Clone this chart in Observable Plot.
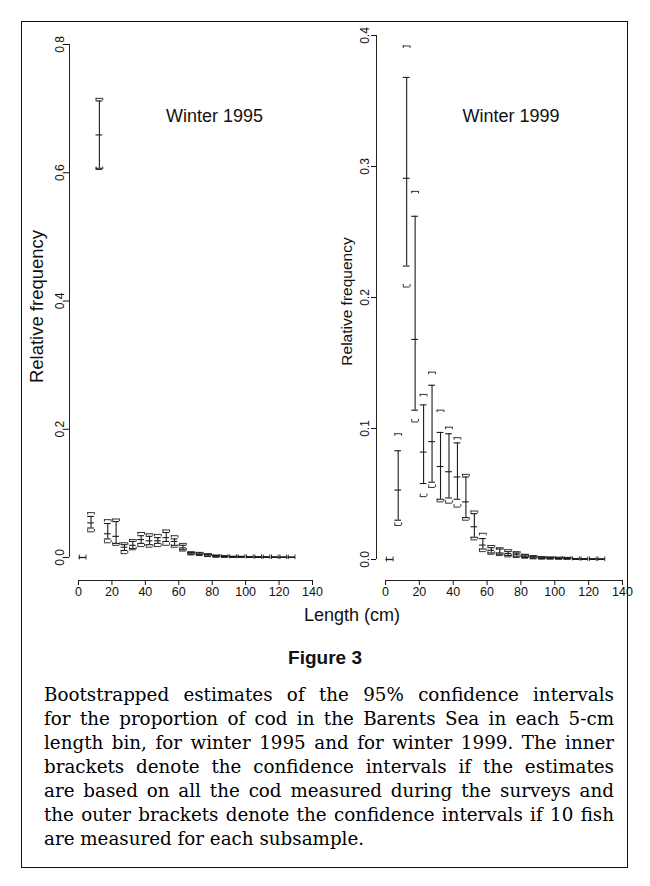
<!DOCTYPE html>
<html>
<head>
<meta charset="utf-8">
<script src="https://cdn.jsdelivr.net/npm/d3@7"></script>
<script src="https://cdn.jsdelivr.net/npm/@observablehq/plot@0.6"></script>
<style>
  html, body { margin: 0; padding: 0; background: #fff; }
  #page { position: relative; width: 650px; height: 886px; background: #fff; overflow: hidden; }
  #border { position: absolute; left: 21px; top: 21px; width: 607px; height: 847px; border: 1.5px solid #111; box-sizing: border-box; }
  .panel { position: absolute; left: 0; top: 0; }
  .panel svg { overflow: visible; background: transparent !important; }
  #xlabel { position: absolute; left: 252px; top: 604px; width: 200px; text-align: center; font: 18px "Liberation Sans", Arial, sans-serif; line-height: 22px; color: #111; }
  #figtitle { position: absolute; left: 0; top: 646px; width: 650px; text-align: center; font: bold 19px "Liberation Sans", Arial, sans-serif; line-height: 24px; color: #111; }
  #caption { position: absolute; left: 44px; top: 683px; width: 570px; font: 18.3px "DejaVu Serif", serif; line-height: 24px; color: #000; }
  #caption div { text-align: justify; text-align-last: justify; white-space: nowrap; }
  #caption div.last { text-align: left; text-align-last: left; }
</style>
</head>
<body>
<div id="page">
  <div id="border"></div>
  <div id="left" class="panel"></div>
  <div id="right" class="panel"></div>
  <div id="xlabel">Length (cm)</div>
  <div id="figtitle">Figure 3</div>
  <div id="caption"></div>
</div>
<script>
// ---- data ----
const lengthBins = [2.5, 7.5, 12.5, 17.5, 22.5, 27.5, 32.5, 37.5, 42.5, 47.5, 52.5, 57.5, 62.5,
  67.5, 72.5, 77.5, 82.5, 87.5, 92.5, 97.5, 102.5, 107.5, 112.5, 117.5, 122.5, 127.5];
const xTicks = [0, 20, 40, 60, 80, 100, 120, 140];

// Winter 1995
const yTicks1995 = [0, 0.2, 0.4, 0.6, 0.8];
const est1995 = [0.000, 0.054, 0.659, 0.037, 0.033, 0.016, 0.019, 0.028, 0.026, 0.026, 0.031, 0.025, 0.015,
  0.007, 0.005, 0.004, 0.002, 0.0015, 0.001, 0.001, 0.0008, 0.0006, 0.0005, 0.0004, 0.0003, 0.0002];
const innerLo1995 = [0.000, 0.046, 0.607, 0.029, 0.022, 0.011, 0.014, 0.022, 0.020, 0.022, 0.025, 0.019, 0.012,
  0.005, 0.004, 0.002, 0.001, 0.0008, 0.0005, 0.0005, 0.0004, 0.0003, 0.0002, 0.0002, 0.0001, 0.0001];
const innerHi1995 = [0.000, 0.064, 0.712, 0.053, 0.056, 0.020, 0.025, 0.034, 0.033, 0.031, 0.039, 0.029, 0.019,
  0.008, 0.007, 0.005, 0.003, 0.0022, 0.0016, 0.0015, 0.0012, 0.001, 0.0008, 0.0006, 0.0005, 0.0004];
const outerLo1995 = [0.000, 0.040, 0.605, 0.023, 0.019, 0.006, 0.012, 0.017, 0.016, 0.017, 0.019, 0.016, 0.010,
  0.004, 0.003, 0.0015, 0.0005, 0.0003, 0.0002, 0.0002, 0.0001, 0.0001, 0.0001, 0, 0, 0];
const outerHi1995 = [0.000, 0.070, 0.716, 0.059, 0.060, 0.023, 0.028, 0.039, 0.037, 0.036, 0.043, 0.034, 0.022,
  0.009, 0.008, 0.006, 0.004, 0.003, 0.002, 0.002, 0.0016, 0.0013, 0.001, 0.0008, 0.0006, 0.0005];

// Winter 1999
const yTicks1999 = [0, 0.1, 0.2, 0.3, 0.4];
const est1999 = [0.000, 0.053, 0.291, 0.168, 0.082, 0.090, 0.071, 0.067, 0.063, 0.044, 0.025, 0.011, 0.007,
  0.005, 0.0045, 0.004, 0.0025, 0.0018, 0.0012, 0.001, 0.0009, 0.0008, 0.0004, 0.0003, 0.0002, 0.0002];
const innerLo1999 = [0.000, 0.030, 0.224, 0.114, 0.058, 0.059, 0.046, 0.047, 0.046, 0.032, 0.017, 0.008, 0.005,
  0.004, 0.003, 0.0025, 0.0015, 0.001, 0.0007, 0.0006, 0.0005, 0.0004, 0.0002, 0.0001, 0.0001, 0.0001];
const innerHi1999 = [0.000, 0.083, 0.368, 0.262, 0.118, 0.133, 0.097, 0.096, 0.089, 0.063, 0.035, 0.016, 0.009,
  0.008, 0.006, 0.005, 0.0035, 0.0025, 0.0018, 0.0015, 0.0013, 0.0012, 0.0006, 0.0005, 0.0004, 0.0003];
const outerLo1999 = [0.000, 0.026, 0.208, 0.105, 0.048, 0.055, 0.044, 0.043, 0.040, 0.030, 0.015, 0.006, 0.004,
  0.003, 0.002, 0.0015, 0.001, 0.0005, 0.0003, 0.0003, 0.0002, 0.0002, 0.0001, 0, 0, 0];
const outerHi1999 = [0.000, 0.096, 0.392, 0.281, 0.126, 0.143, 0.114, 0.101, 0.093, 0.065, 0.037, 0.020, 0.0107,
  0.009, 0.0075, 0.006, 0.004, 0.003, 0.0022, 0.002, 0.0018, 0.0016, 0.0008, 0.0006, 0.0005, 0.0004];

const captionLines = [
  "Bootstrapped estimates of the 95% confidence intervals",
  "for the proportion of cod in the Barents Sea in each 5-cm",
  "length bin, for winter 1995 and for winter 1999. The inner",
  "brackets denote the confidence intervals if the estimates",
  "are based on all the cod measured during the surveys and",
  "the outer brackets denote the confidence intervals if 10 fish",
  "are measured for each subsample."
];

// ---- drawing ----
const H = 600, MB = 20;
function panel(cfg) {
  const rows = lengthBins.map((x, i) => ({
    x, est: cfg.est[i], iLo: cfg.iLo[i], iHi: cfg.iHi[i], oLo: cfg.oLo[i], oHi: cfg.oHi[i]
  }));
  const yZero = H - MB - cfg.insetBottom;
  const e = 2.5 * cfg.ymax / (yZero - cfg.marginTop);  // ~2.5px end ticks of outer brackets
  const hw = 2.0;
  const ink = {stroke: "#1c1c1c", strokeWidth: 1.1};
  const out = {stroke: "#333", strokeWidth: 1};
  const fmt = d3.format(".1f");
  return Plot.plot({
    width: 650, height: H,
    marginLeft: cfg.marginLeft, marginRight: cfg.marginRight, marginTop: cfg.marginTop, marginBottom: MB,
    x: {domain: [0, 140], insetLeft: 9},
    y: {domain: [0, cfg.ymax], insetBottom: cfg.insetBottom},
    style: {fontFamily: "'Liberation Sans', Arial, sans-serif", fontSize: "12px", color: "#111", background: "transparent", overflow: "visible"},
    marks: [
      Plot.axisX(xTicks, {tickSize: 5, tickPadding: 2, fontSize: 12.5, label: null}),
      Plot.axisY(cfg.yTicks, {tickSize: 5, tickPadding: cfg.tickPadY, tickRotate: -90, tickFormat: fmt, fontSize: 12, label: null}),
      Plot.ruleY([0], {x1: 0, x2: 140, dy: cfg.insetBottom, stroke: "#222", strokeWidth: 1}),
      Plot.ruleX([0], {y1: 0, y2: cfg.ymax, dx: -9, stroke: "#222", strokeWidth: 1}),
      // outer brackets
      Plot.ruleY(rows, {y: "oHi", x1: d => d.x - hw, x2: d => d.x + hw, ...out}),
      Plot.ruleY(rows, {y: "oLo", x1: d => d.x - hw, x2: d => d.x + hw, ...out}),
      Plot.ruleX(rows, {x: d => d.x - hw, y1: "oHi", y2: d => d.oHi - e, ...out}),
      Plot.ruleX(rows, {x: d => d.x + hw, y1: "oHi", y2: d => d.oHi - e, ...out}),
      Plot.ruleX(rows, {x: d => d.x - hw, y1: "oLo", y2: d => d.oLo + e, ...out}),
      Plot.ruleX(rows, {x: d => d.x + hw, y1: "oLo", y2: d => d.oLo + e, ...out}),
      // inner brackets
      Plot.ruleX(rows, {x: "x", y1: "iLo", y2: "iHi", ...ink}),
      Plot.ruleY(rows, {y: "iHi", x1: d => d.x - hw, x2: d => d.x + hw, ...ink}),
      Plot.ruleY(rows, {y: "iLo", x1: d => d.x - hw, x2: d => d.x + hw, ...ink}),
      Plot.ruleY(rows, {y: "est", x1: d => d.x - hw, x2: d => d.x + hw, ...ink}),
      // labels
      Plot.text([cfg.title], {frameAnchor: "top", textAnchor: "middle", lineAnchor: "middle", dx: cfg.titleDx, dy: cfg.titleDy, fontSize: 18, fill: "#111"}),
      Plot.text(["Relative frequency"], {frameAnchor: "left", textAnchor: "middle", lineAnchor: "middle", dx: cfg.ylabDx, dy: cfg.ylabDy, rotate: -90, fontSize: cfg.ylabSize, fill: "#111"})
    ]
  });
}

document.getElementById("left").append(panel({
  est: est1995, iLo: innerLo1995, iHi: innerHi1995, oLo: outerLo1995, oHi: outerHi1995,
  ymax: 0.8, yTicks: yTicks1995, marginLeft: 69, marginRight: 338, marginTop: 44, insetBottom: 23,
  tickPadY: 1, title: "Winter 1995", titleDx: 23.5, titleDy: 72,
  ylabDx: -32, ylabDy: -6, ylabSize: 18.5
}));
document.getElementById("right").append(panel({
  est: est1999, iLo: innerLo1999, iHi: innerHi1999, oLo: outerLo1999, oHi: outerHi1999,
  ymax: 0.4, yTicks: yTicks1999, marginLeft: 376, marginRight: 28, marginTop: 35, insetBottom: 21,
  tickPadY: 3, title: "Winter 1999", titleDx: 11.5, titleDy: 81,
  ylabDx: -29.5, ylabDy: -6.5, ylabSize: 15.5
}));

const cap = document.getElementById("caption");
captionLines.forEach((t, i) => {
  const d = document.createElement("div");
  d.textContent = t;
  if (i === captionLines.length - 1) d.className = "last";
  cap.append(d);
});
</script>
</body>
</html>
